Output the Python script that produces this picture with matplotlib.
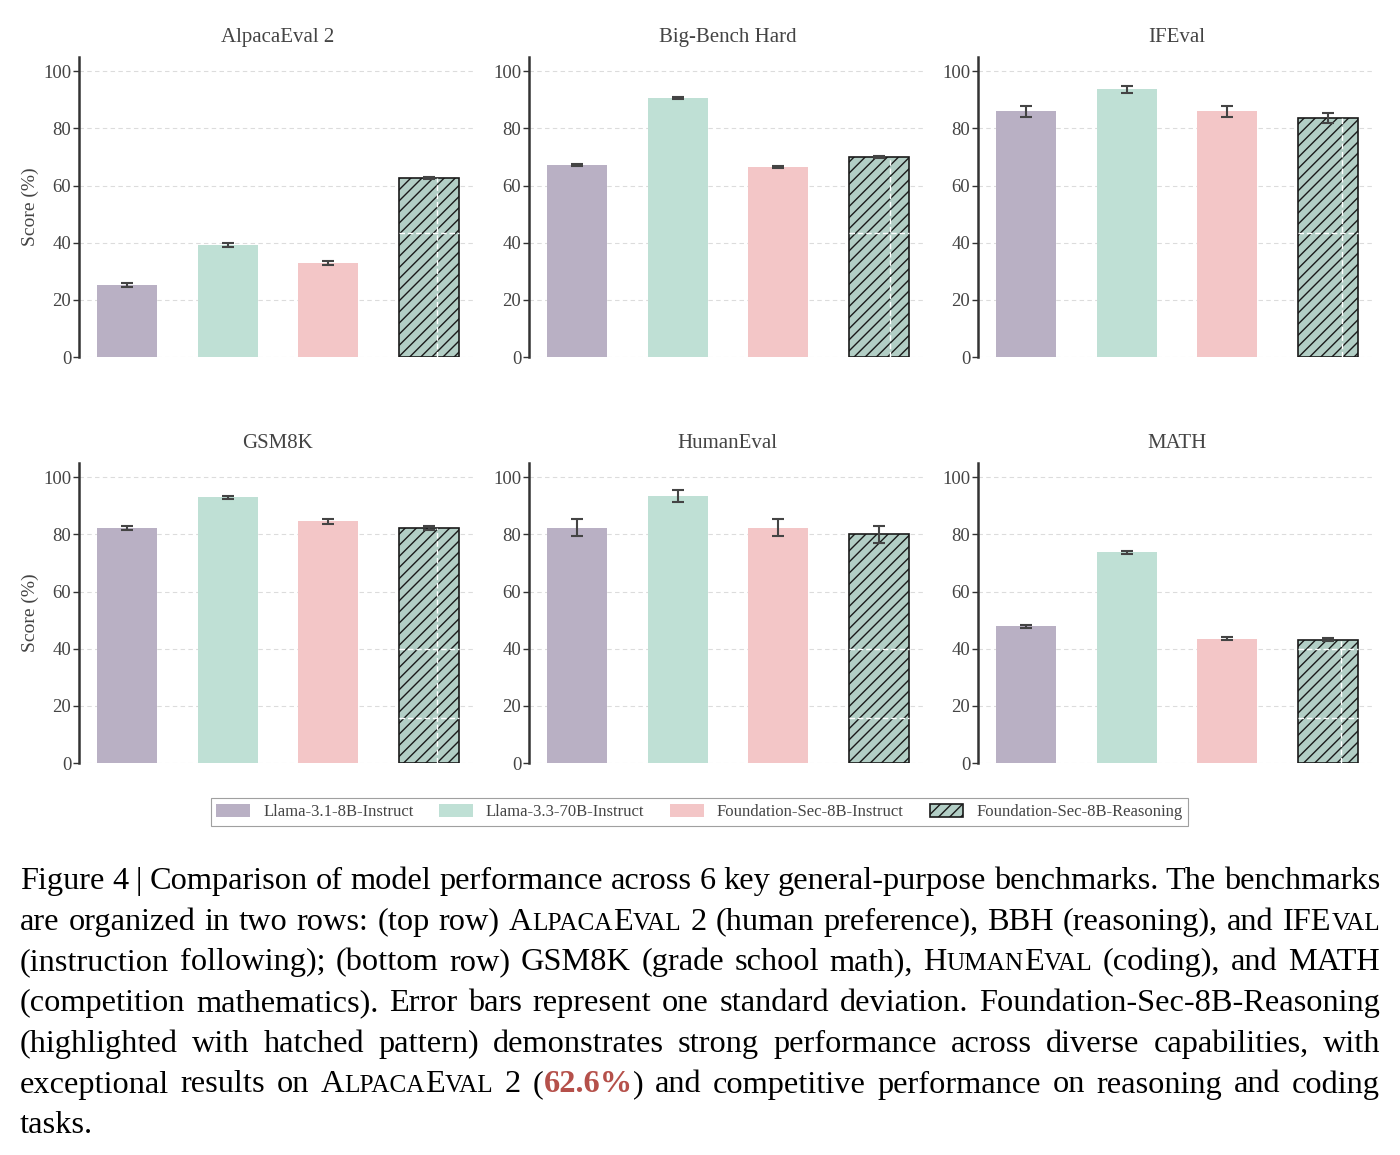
import matplotlib
matplotlib.use("Agg")
import matplotlib.pyplot as plt
from matplotlib.patches import Patch

# ---------------- data ----------------
benchmarks = ["AlpacaEval 2", "Big-Bench Hard", "IFEval", "GSM8K", "HumanEval", "MATH"]
models = ["Llama-3.1-8B-Instruct", "Llama-3.3-70B-Instruct",
          "Foundation-Sec-8B-Instruct", "Foundation-Sec-8B-Reasoning"]

alpaca_scores = [25.2, 39.2, 32.9, 62.6]
alpaca_err = [0.7, 0.8, 0.8, 0.3]
bbh_scores = [67.1, 90.6, 66.4, 69.9]
bbh_err = [0.4, 0.3, 0.4, 0.4]
ifeval_scores = [86.0, 93.7, 86.0, 83.6]
ifeval_err = [1.9, 1.3, 1.9, 1.7]
gsm8k_scores = [82.2, 93.0, 84.6, 82.2]
gsm8k_err = [0.8, 0.5, 0.8, 0.7]
humaneval_scores = [82.3, 93.4, 82.3, 80.0]
humaneval_err = [3.0, 2.0, 3.0, 3.1]
math_scores = [47.8, 73.8, 43.5, 43.1]
math_err = [0.6, 0.5, 0.6, 0.5]

all_scores = [alpaca_scores, bbh_scores, ifeval_scores, gsm8k_scores, humaneval_scores, math_scores]
all_err = [alpaca_err, bbh_err, ifeval_err, gsm8k_err, humaneval_err, math_err]

yticks = [0, 20, 40, 60, 80, 100]

colors = ["#b9b0c4", "#bfe0d5", "#f3c6c7", "#b2cec5"]

# faint white dashed marks seen inside the hatched bars (value levels, x offsets)
hatch_hlines = [[43.5], [43.5], [43.5], [40.0, 15.7], [40.0, 15.7], [40.0, 15.7]]
hatch_vline_off = [0.08, 0.11, 0.14, 0.08, None, 0.13]

caption_lines = [
    "Figure 4 | Comparison of model performance across 6 key general-purpose benchmarks. The benchmarks",
    "are organized in two rows: (top row) §AlpacaEval 2 (human preference), BBH (reasoning), and §IFEval",
    "(instruction following); (bottom row) GSM8K (grade school math), §HumanEval (coding), and MATH",
    "(competition mathematics). Error bars represent one standard deviation. Foundation-Sec-8B-Reasoning",
    "(highlighted with hatched pattern) demonstrates strong performance across diverse capabilities, with",
    "exceptional results on §AlpacaEval 2 (¤62.6%¤) and competitive performance on reasoning and coding",
    "tasks.",
]

# ---------------- figure ----------------
W, H = 1400, 1155
FONT = ["Liberation Serif", "DejaVu Serif"]
plt.rcParams["font.family"] = FONT
plt.rcParams["hatch.linewidth"] = 1.0
TXT = "#444444"

fig = plt.figure(figsize=(W / 100, H / 100), dpi=100)


def px_axes(left, top, width, height):
    return fig.add_axes([left / W, 1 - (top + height) / H, width / W, height / H])


lefts = [79, 529, 978]
tops = [57, 463]
x = list(range(len(models)))

for i, name in enumerate(benchmarks):
    r, c = divmod(i, 3)
    ax = px_axes(lefts[c], tops[r], 397, 300)
    sc = all_scores[i]
    er = all_err[i]
    for j in x:
        if j == 3:
            ax.bar(j, sc[j], width=0.6, color=colors[j], edgecolor="#1a1a1a",
                   linewidth=1.2, hatch="///", zorder=2)
        else:
            ax.bar(j, sc[j], width=0.6, color=colors[j], edgecolor="none", zorder=2)
    ax.errorbar(x, sc, yerr=er, fmt="none", ecolor="#444444", elinewidth=1.5,
                capsize=4, capthick=1.5, zorder=5)
    # white dashed artefact marks inside the hatched bar
    for hv in hatch_hlines[i]:
        if hv < sc[3]:
            ax.hlines(hv, 3 - 0.3, 3 + 0.3, colors="white", linestyles=(0, (4, 2)),
                      linewidth=1.0, zorder=4)
    if hatch_vline_off[i] is not None:
        ax.vlines(3 + hatch_vline_off[i], 0, sc[3], colors="white",
                  linestyles=(0, (4, 2)), linewidth=1.0, zorder=4)

    ax.set_xlim(-0.48, 3.47)
    ax.set_ylim(0, 105)
    ax.set_yticks(yticks)
    ax.set_xticks([])
    for s in ["top", "right", "bottom"]:
        ax.spines[s].set_visible(False)
    ax.spines["left"].set_color("#333333")
    ax.spines["left"].set_linewidth(1.8)
    ax.tick_params(axis="y", length=4, width=1, color="#333333", labelsize=13.5,
                   labelcolor=TXT, pad=1.5)
    ax.yaxis.grid(True, linestyle=(0, (4, 3)), color="#dcdcdc", linewidth=0.8)
    ax.set_axisbelow(True)
    ax.set_title(name, fontsize=15, color=TXT, pad=11)
    if c == 0:
        ax.set_ylabel("Score (%)", fontsize=14, color=TXT)
        ax.yaxis.set_label_coords(-0.10, 0.5)

handles = []
for j, m in enumerate(models):
    if j == 3:
        handles.append(Patch(facecolor=colors[j], edgecolor="#1a1a1a", hatch="///",
                             linewidth=1.2, label=m))
    else:
        handles.append(Patch(facecolor=colors[j], edgecolor="none", label=m))
leg = fig.legend(handles=handles, loc="center", bbox_to_anchor=(699.5 / W, 1 - 812 / H),
                 ncol=4, frameon=True, fancybox=False, edgecolor="#888888", fontsize=12,
                 handlelength=2.0, handleheight=0.8, columnspacing=1.55, borderpad=0.35,
                 labelcolor=TXT)
leg.get_frame().set_linewidth(0.8)

# ---------------- caption ----------------
CAP_SIZE = 23.3
SC_RATIO = 0.78
renderer = fig.canvas.get_renderer()


def parse_word(word):
    runs = []
    if word.startswith("§"):
        w = word[1:]
        cur, cur_small = "", None
        for ch in w:
            small = ch.islower()
            if cur_small is None or small == cur_small:
                cur += ch.upper() if small else ch
                cur_small = small
            else:
                runs.append((cur, CAP_SIZE * (SC_RATIO if cur_small else 1), "black", "normal"))
                cur, cur_small = (ch.upper() if small else ch), small
        if cur:
            runs.append((cur, CAP_SIZE * (SC_RATIO if cur_small else 1), "black", "normal"))
        return runs
    if "¤" in word:
        parts = word.split("¤")
        for k, p in enumerate(parts):
            if p:
                if k % 2 == 1:
                    runs.append((p, CAP_SIZE, "#b5504a", "bold"))
                else:
                    runs.append((p, CAP_SIZE, "black", "normal"))
        return runs
    return [(word, CAP_SIZE, "black", "normal")]


def measure(runs):
    total = 0
    for t, s, col, wt in runs:
        tx = fig.text(0, 0, t, fontsize=s, weight=wt, family=FONT)
        total += tx.get_window_extent(renderer).width
        tx.remove()
    return total


x0_px, x1_px = 20, 1380
baseline0, line_gap = 889, 40.7
space_px = 0.25 * CAP_SIZE * 100 / 72

for li, line in enumerate(caption_lines):
    words = [parse_word(w) for w in line.split(" ")]
    widths = [measure(w) for w in words]
    justify = li < len(caption_lines) - 1
    if justify and len(words) > 1:
        gap = (x1_px - x0_px - sum(widths)) / (len(words) - 1)
    else:
        gap = space_px
    y = 1 - (baseline0 + li * line_gap) / H
    cx = x0_px
    for runs, wd in zip(words, widths):
        rx = cx
        for t, s, col, wt in runs:
            tx = fig.text(rx / W, y, t, fontsize=s, weight=wt, color=col, family=FONT,
                          ha="left", va="baseline")
            rx += tx.get_window_extent(renderer).width
        cx += wd + gap

fig.savefig("out.png", dpi=100)
